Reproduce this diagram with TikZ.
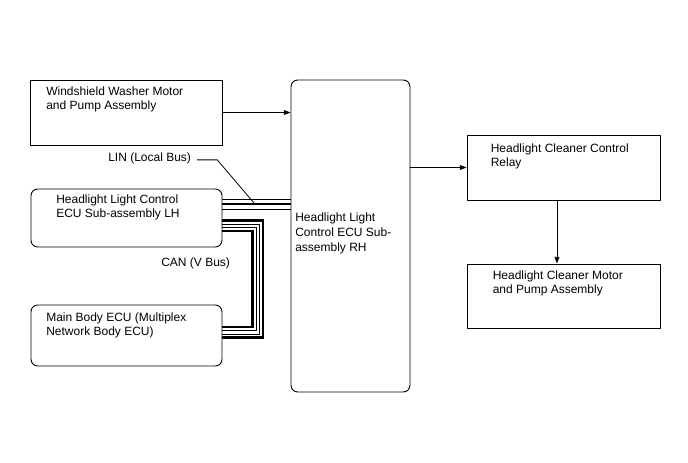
\documentclass[tikz,border=0pt]{standalone}
\usepackage{fontspec}
\setmainfont{Liberation Sans}
\usetikzlibrary{fit,arrows.meta}
\begin{document}
\begin{tikzpicture}[x=0.75pt, y=-0.75pt,
    every node/.style={font=\fontsize{9}{10.5}\selectfont},
    box/.style={draw, line width=0.7pt, inner sep=0pt},
    ecu/.style={box, rounded corners=5pt},
    txt/.style={anchor=north west, align=left, inner sep=0pt},
    arr/.style={-{Triangle[length=5pt,width=3.6pt]}, line width=0.6pt},
    thinbus/.style={line width=0.6pt},
    thickbus/.style={line width=2.2pt}]
    \useasboundingbox (0,0) rectangle (688,463);

    % Boxes
    \node[box, fit={(30,80) (222,145)}] (wash) {};
    \node[ecu, fit={(291,80) (410,392)}] (rh) {};
    \node[box, fit={(467,135) (660,200)}] (relay) {};
    \node[box, fit={(467,264) (660,328)}] (motor) {};
    \node[ecu, fit={(31,189) (222,247)}] (lh) {};
    \node[ecu, fit={(31,305) (222,366)}] (main) {};

    % Texts
    \node[txt] (washtxt) at (46,87) {Windshield Washer Motor\\and Pump Assembly};
    \node[txt, font=\fontsize{9}{11.2}\selectfont] (rhtxt) at (295,212.5) {Headlight Light\\Control ECU Sub-\\assembly RH};
    \node[txt] (relaytxt) at (490.5,144) {Headlight Cleaner Control\\Relay};
    \node[txt] (motortxt) at (492.5,270.5) {Headlight Cleaner Motor\\and Pump Assembly};
    \node[txt] (lhtxt) at (56,195) {Headlight Light Control\\ECU Sub-assembly LH};
    \node[txt] (maintxt) at (46,313) {Main Body ECU (Multiplex\\Network Body ECU)};
    \node[txt] (lin) at (108,153) {LIN (Local Bus)};
    \node[txt] (can) at (161,258) {CAN (V Bus)};

    % Signals
    \draw[arr] (wash.east) -- (wash.east -| rh.west);
    \draw[arr] (relay.west -| rh.east) -- (relay.west);
    \draw[arr] ([xshift=-4.9pt]relay.south) -- ([xshift=-4.9pt]motor.north);

    % LIN
    \draw[thinbus] (lh.east |- 0,199) -- (rh.west |- 0,199);
    \draw[thickbus] (lh.east |- 0,204) -- (rh.west |- 0,204);
    \draw[thinbus] (lh.east |- 0,209) -- (rh.west |- 0,209);
    \coordinate (linpt) at (254,203);
    \draw[thinbus] (lin.east) ++(6,1) coordinate (linstart) -- ++(20,0) -- (linpt);

    % CAN
    \draw[thickbus] (lh.east |- 0,220.5) -- (263,220.5) -- (263,337.5) -- (main.east |- 0,337.5);
    \draw[thinbus] (lh.east |- 0,224) -- (259.5,224) -- (259.5,334) -- (main.east |- 0,334);
    \draw[thinbus] (lh.east |- 0,227.5) -- (256,227.5) -- (256,330.5) -- (main.east |- 0,330.5);
    \draw[thickbus] (lh.east |- 0,231) -- (252.5,231) -- (252.5,327) -- (main.east |- 0,327);
\end{tikzpicture}
\end{document}
